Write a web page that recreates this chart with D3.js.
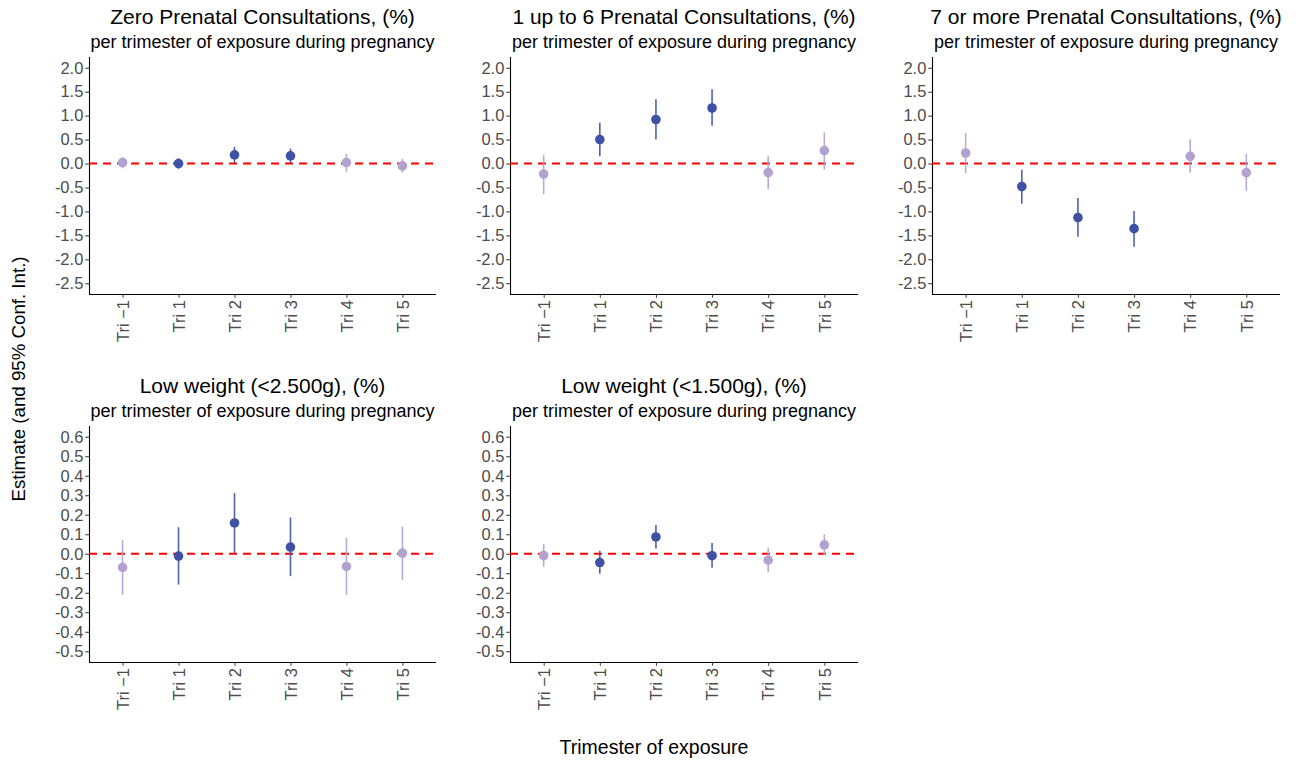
<!DOCTYPE html>
<html>
<head>
<meta charset="utf-8">
<script src="https://cdn.jsdelivr.net/npm/d3@7"></script>
<style>
  html, body { margin: 0; padding: 0; background: #fff; }
  svg { display: block; font-family: "Liberation Sans", Arial, sans-serif; }
</style>
</head>
<body>
<svg id="chart" width="1300" height="764"></svg>
<script>
// ---- data ----
const categories = ["Tri \u22121", "Tri 1", "Tri 2", "Tri 3", "Tri 4", "Tri 5"];
const significant = [false, true, true, true, false, false];

const titles = [
  "Zero Prenatal Consultations, (%)",
  "1 up to 6 Prenatal Consultations, (%)",
  "7 or more Prenatal Consultations, (%)",
  "Low weight (<2.500g), (%)",
  "Low weight (<1.500g), (%)"
];
const subtitle = "per trimester of exposure during pregnancy";

const zeroEst   = [0.02, 0.00, 0.18, 0.16, 0.02, -0.05];
const zeroLow   = [-0.10, -0.11, 0.01, 0.01, -0.17, -0.19];
const zeroHigh  = [0.13, 0.11, 0.35, 0.31, 0.20, 0.10];

const mid6Est   = [-0.22, 0.50, 0.92, 1.16, -0.19, 0.27];
const mid6Low   = [-0.64, 0.15, 0.50, 0.79, -0.53, -0.13];
const mid6High  = [0.18, 0.85, 1.34, 1.55, 0.15, 0.65];

const over7Est  = [0.22, -0.48, -1.13, -1.36, 0.15, -0.19];
const over7Low  = [-0.20, -0.84, -1.53, -1.74, -0.19, -0.57];
const over7High = [0.64, -0.13, -0.72, -0.99, 0.50, 0.20];

const lw2500Est  = [-0.070, -0.012, 0.158, 0.034, -0.065, 0.003];
const lw2500Low  = [-0.211, -0.158, 0.003, -0.115, -0.211, -0.134];
const lw2500High = [0.070, 0.136, 0.311, 0.186, 0.082, 0.139];

const lw1500Est  = [-0.009, -0.045, 0.086, -0.010, -0.033, 0.046];
const lw1500Low  = [-0.067, -0.103, 0.027, -0.072, -0.093, -0.007];
const lw1500High = [0.050, 0.015, 0.148, 0.055, 0.031, 0.101];

const topTicks = [2.0, 1.5, 1.0, 0.5, 0.0, -0.5, -1.0, -1.5, -2.0, -2.5];
const bottomTicks = [0.6, 0.5, 0.4, 0.3, 0.2, 0.1, 0.0, -0.1, -0.2, -0.3, -0.4, -0.5];
const topLimits = [-2.5, 2.0];
const bottomLimits = [-0.5, 0.6];

const xTitle = "Trimester of exposure";
const yTitle = "Estimate (and 95% Conf. Int.)";

// ---- layout ----
const colors = { sig: "#3F51A5", ns: "#B3A2CF" };
const cols = [[89, 436], [510, 858], [932, 1280]];
const rows = [[57, 294], [426, 662]];
const FONT = "Liberation Sans, Arial, sans-serif";

const panels = [
  { title: titles[0], est: zeroEst,  low: zeroLow,  high: zeroHigh,  ticks: topTicks, lim: topLimits, col: 0, row: 0 },
  { title: titles[1], est: mid6Est,  low: mid6Low,  high: mid6High,  ticks: topTicks, lim: topLimits, col: 1, row: 0 },
  { title: titles[2], est: over7Est, low: over7Low, high: over7High, ticks: topTicks, lim: topLimits, col: 2, row: 0 },
  { title: titles[3], est: lw2500Est, low: lw2500Low, high: lw2500High, ticks: bottomTicks, lim: bottomLimits, col: 0, row: 1 },
  { title: titles[4], est: lw1500Est, low: lw1500Low, high: lw1500High, ticks: bottomTicks, lim: bottomLimits, col: 1, row: 1 }
];

const svg = d3.select("#chart");

panels.forEach(p => {
  const [x0, x1] = cols[p.col];
  const [y0, y1] = rows[p.row];
  const g = svg.append("g");

  const x = d3.scalePoint().domain(categories).range([x0, x1]).padding(0.6);
  const span = p.lim[1] - p.lim[0];
  const y = d3.scaleLinear()
    .domain([p.lim[0] - 0.05 * span, p.lim[1] + 0.05 * span])
    .range([y1, y0]);

  const fmt = d3.format(".1f");

  // y axis
  const ya = g.append("g").attr("transform", `translate(${x0},0)`)
    .call(d3.axisLeft(y).tickValues(p.ticks).tickSize(3.7).tickPadding(2)
      .tickFormat(d => fmt(d).replace("\u2212", "-")));
  ya.select(".domain").attr("stroke", "#000").attr("stroke-width", 1.1).attr("d", `M0.5,${y0}V${y1}`);
  ya.selectAll(".tick line").attr("stroke", "#333");
  ya.selectAll(".tick text").attr("fill", "#4D4D4D").style("font-size", "16.5px")
    .style("font-family", FONT);

  // x axis
  const xa = g.append("g").attr("transform", `translate(0,${y1})`)
    .call(d3.axisBottom(x).tickSize(3.7).tickPadding(0));
  xa.select(".domain").attr("stroke", "#000").attr("stroke-width", 1.1).attr("d", `M${x0},0.5H${x1}`);
  xa.selectAll(".tick line").attr("stroke", "#333");
  xa.selectAll(".tick text")
    .attr("fill", "#4D4D4D").style("font-size", "16.5px")
    .style("font-family", FONT)
    .attr("transform", "rotate(-90)")
    .attr("text-anchor", "end")
    .attr("x", -6).attr("y", 0).attr("dy", "0.35em");

  // zero reference line
  g.append("line")
    .attr("x1", x0).attr("x2", x1)
    .attr("y1", y(0)).attr("y2", y(0))
    .attr("stroke", "#FF0000").attr("stroke-width", 2)
    .attr("stroke-dasharray", "8,6");

  const idx = d3.range(categories.length);
  // CI bars
  g.selectAll("line.ci").data(idx).join("line")
    .attr("class", "ci")
    .attr("x1", i => x(categories[i])).attr("x2", i => x(categories[i]))
    .attr("y1", i => y(p.low[i])).attr("y2", i => y(p.high[i]))
    .attr("stroke", i => significant[i] ? colors.sig : colors.ns)
    .attr("stroke-width", 1.6)
    .attr("stroke-opacity", 0.9);
  // points
  g.selectAll("circle.pt").data(idx).join("circle")
    .attr("class", "pt")
    .attr("cx", i => x(categories[i]))
    .attr("cy", i => y(p.est[i]))
    .attr("r", 4.8)
    .attr("fill", i => significant[i] ? colors.sig : colors.ns);

  // titles
  const cx = (x0 + x1) / 2;
  g.append("text").attr("x", cx).attr("y", y0 - 33)
    .attr("text-anchor", "middle").style("font-size", "21px").attr("fill", "#000")
    .text(p.title);
  g.append("text").attr("x", cx).attr("y", y0 - 9)
    .attr("text-anchor", "middle").style("font-size", "18px").attr("fill", "#000")
    .text(subtitle);
});

// axis titles
svg.append("text").attr("x", 654).attr("y", 754)
  .attr("text-anchor", "middle").style("font-size", "19.5px").attr("fill", "#000")
  .text(xTitle);
svg.append("text")
  .attr("transform", "translate(25,379) rotate(-90)")
  .attr("text-anchor", "middle").style("font-size", "18.7px").attr("fill", "#000")
  .text(yTitle);
</script>
</body>
</html>
